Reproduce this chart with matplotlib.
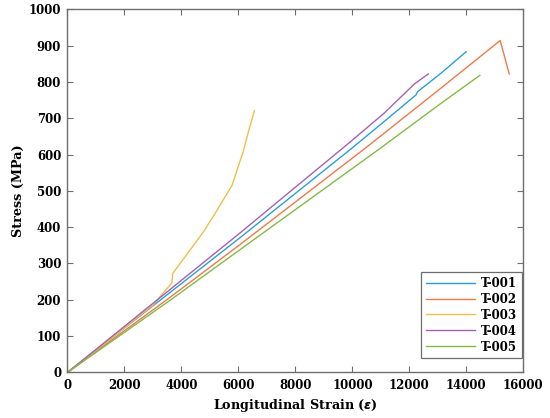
import matplotlib
matplotlib.use('Agg')
import matplotlib.pyplot as plt
import numpy as np


# strain (x) and stress in MPa (y) for each specimen
t001_strain = [0, 3256, 6072, 9944, 11116, 12231, 12290, 13111, 13992]
t001_stress = [0, 199, 372, 615, 691, 764, 773, 824, 883]

t002_strain = [0, 3467, 6072, 10412, 13111, 15188, 15505]
t002_stress = [0, 199, 353, 615, 783, 914, 822]

t003_strain = [0, 1500, 3010, 3668, 3690, 4200, 4780, 5252, 5780, 5955, 6167, 6400, 6565]
t003_stress = [0, 92, 186, 247, 272, 326, 388, 447, 516, 558, 608, 677, 721]

t004_strain = [0, 3139, 6072, 9944, 11116, 12172, 12665]
t004_stress = [0, 199, 385, 636, 714, 794, 822]

t005_strain = [0, 3608, 6072, 10940, 13111, 14473]
t005_stress = [0, 199, 339, 615, 741, 818]

labels = ['T-001', 'T-002', 'T-003', 'T-004', 'T-005']
colors = ['#2A9FD6', '#EE7A4A', '#F2BE45', '#A560B5', '#84BA45']

x_ticks = np.arange(0, 16001, 2000)
y_ticks = np.arange(0, 1001, 100)


plt.rcParams['font.family'] = ['DejaVu Serif']
plt.rcParams['font.weight'] = 'bold'

fig = plt.figure(figsize=(5.5, 4.18), dpi=100)
ax = fig.add_axes([0.1227, 0.1091, 0.9515 - 0.1227, 0.9778 - 0.1091])

series = [(t001_strain, t001_stress), (t002_strain, t002_stress),
          (t003_strain, t003_stress), (t004_strain, t004_stress),
          (t005_strain, t005_stress)]

for (strain, stress), lab, col in zip(series, labels, colors):
    ax.plot(strain, stress, color=col, linewidth=1.0, label=lab)

ax.set_xlim(0, 16000)
ax.set_ylim(0, 1000)
ax.set_xticks(x_ticks)
ax.set_yticks(y_ticks)

spine_col = '#6e6e6e'
for s in ax.spines.values():
    s.set_color(spine_col)
    s.set_linewidth(1.0)

ax.tick_params(direction='in', length=4, width=0.8, color=spine_col,
               top=True, right=True, labelsize=8.5, pad=4.5)
for lbl in ax.get_xticklabels() + ax.get_yticklabels():
    lbl.set_fontweight('bold')

ax.set_xlabel(r'Longitudinal Strain ($\epsilon$)', fontsize=9.2, fontweight='bold', labelpad=3.5)
ax.set_ylabel('Stress (MPa)', fontsize=9.2, fontweight='bold', labelpad=3)

leg = ax.legend(loc='lower right', bbox_to_anchor=(0.997, 0.039), borderaxespad=0,
                fancybox=False, framealpha=1, edgecolor=spine_col,
                prop={'weight': 'bold', 'size': 8.5}, handlelength=4.2,
                labelspacing=0.25, borderpad=0.4, handletextpad=0.5)
leg.get_frame().set_linewidth(0.9)

fig.savefig('out.png', dpi=100)
